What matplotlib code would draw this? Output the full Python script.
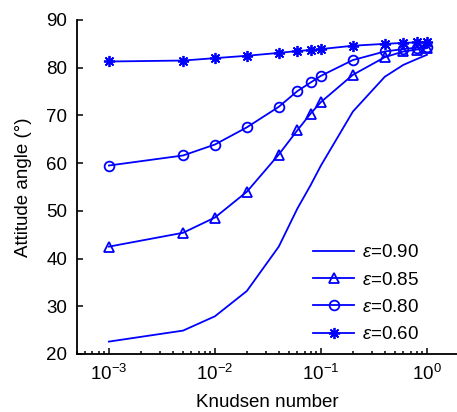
import matplotlib
matplotlib.use("Agg")
import matplotlib.pyplot as plt

plt.rcParams['font.family'] = ['Liberation Sans', 'DejaVu Sans']
plt.rcParams['mathtext.fontset'] = 'custom'
plt.rcParams['mathtext.rm'] = 'Liberation Sans'
plt.rcParams['mathtext.it'] = 'Liberation Sans:italic'
plt.rcParams['mathtext.default'] = 'regular'

# Knudsen numbers and attitude angles (deg) for each eccentricity
kn = [0.001, 0.005, 0.01, 0.02, 0.04, 0.06, 0.08, 0.1, 0.2, 0.4, 0.6, 0.8, 1.0]
ang_090 = [22.6, 24.9, 27.9, 33.2, 42.5, 50.5, 55.4, 59.5, 70.8, 78.1, 80.6, 81.8, 82.7]
ang_085 = [42.5, 45.4, 48.6, 54.0, 61.8, 66.9, 70.4, 72.8, 78.5, 82.2, 83.4, 83.8, 84.1]
ang_080 = [59.5, 61.6, 63.9, 67.5, 71.8, 75.1, 76.9, 78.3, 81.6, 83.4, 83.9, 84.2, 84.4]
ang_060 = [81.3, 81.5, 82.0, 82.5, 83.1, 83.5, 83.7, 83.9, 84.6, 85.0, 85.2, 85.3, 85.4]
labels = ['0.90', '0.85', '0.80', '0.60']

blue = (0, 0, 1)
fs = 13.5
fig = plt.figure(figsize=(4.57, 4.12), dpi=100)
ax = fig.add_axes([0.1685, 0.1408, 0.8315, 0.8107])

ax.plot(kn, ang_090, color=blue, lw=1.3, label=r'$\mathit{\varepsilon}$=' + labels[0])
ax.plot(kn, ang_085, color=blue, lw=1.3, marker='^', ms=7.5, mfc='none', mew=1.3,
        label=r'$\mathit{\varepsilon}$=' + labels[1])
ax.plot(kn, ang_080, color=blue, lw=1.3, marker='o', ms=7, mfc='none', mew=1.3,
        label=r'$\mathit{\varepsilon}$=' + labels[2])
ax.plot(kn, ang_060, color=blue, lw=1.3, marker=(8, 2, 0), ms=8, mew=1.3,
        label=r'$\mathit{\varepsilon}$=' + labels[3])

ax.set_xscale('log')
ax.set_xlim(5e-4, 1.92)
ax.set_ylim(20, 90)
ax.set_yticks(range(20, 91, 10))
ax.set_xticks([1e-3, 1e-2, 1e-1, 1e0])
ax.set_xticklabels([r'$10^{-3}$', r'$10^{-2}$', r'$10^{-1}$', r'$10^{0}$'])

for s in ['top', 'right']:
    ax.spines[s].set_visible(False)
for s in ['left', 'bottom']:
    ax.spines[s].set_linewidth(1.3)
ax.tick_params(which='both', direction='in', labelsize=fs, width=1.1)
ax.tick_params(which='major', length=4, pad=7)
ax.tick_params(which='minor', length=2.5)

ax.set_xlabel('Knudsen number', fontsize=fs, labelpad=7)
ax.set_ylabel('Attitude angle (°)', fontsize=fs, labelpad=10)

ax.legend(loc='upper left', bbox_to_anchor=(313 / 457, 1 - 244 / 412),
          bbox_transform=fig.transFigure, frameon=False, fontsize=fs,
          handlelength=2.2, handletextpad=0.4, labelspacing=0.55,
          borderpad=0, borderaxespad=0)

fig.savefig('out.png', dpi=100)
